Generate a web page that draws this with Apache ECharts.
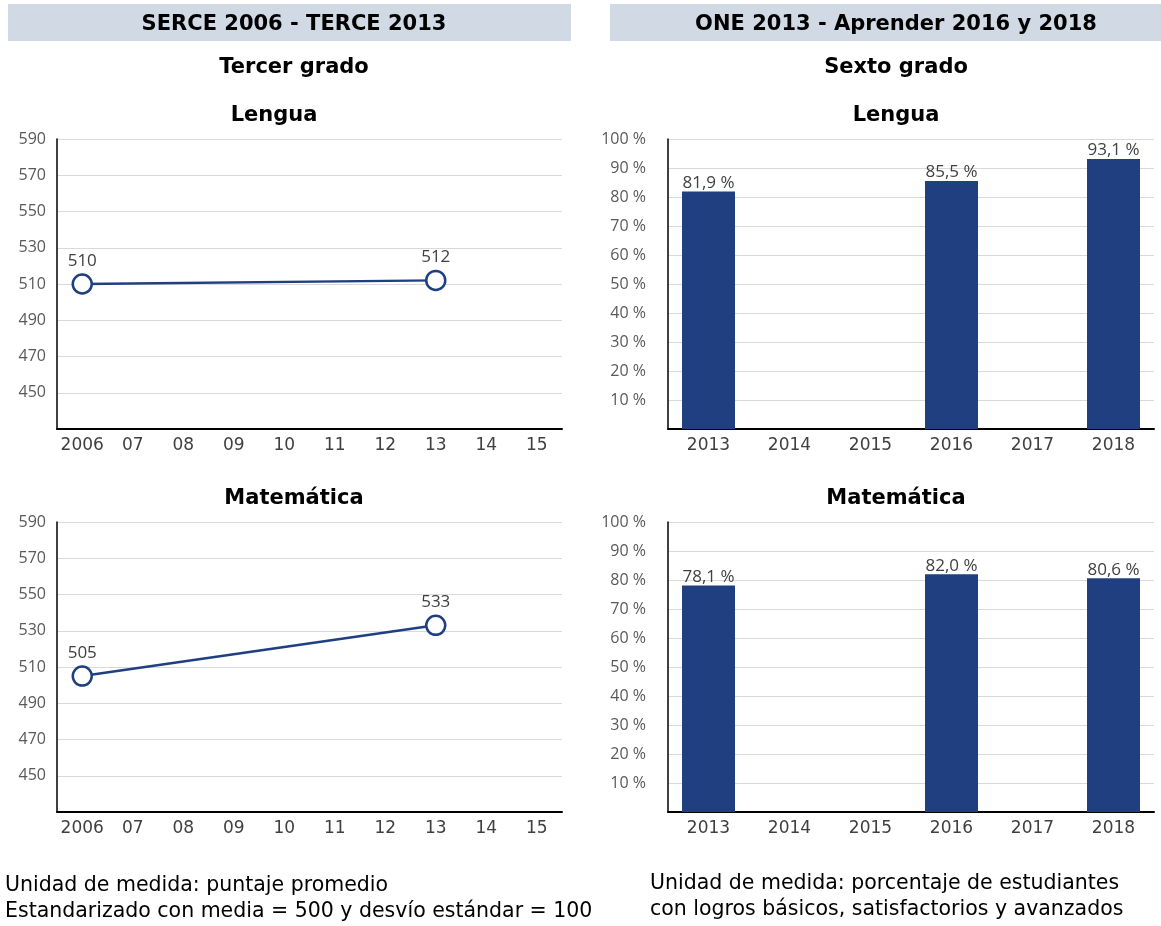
<!DOCTYPE html>
<html>
<head>
<meta charset="utf-8">
<script src="https://cdn.jsdelivr.net/npm/echarts@6/dist/echarts.min.js"></script>
<style>
  html, body { margin: 0; padding: 0; background: #fff; }
  #chart { width: 1161px; height: 926px; }
</style>
</head>
<body>
<div id="chart"></div>
<script>
// left side: SERCE / TERCE scores (tercer grado)
const yearsLeft = ["2006", "07", "08", "09", "10", "11", "12", "13", "14", "15"];
const lenguaTercer = [510, null, null, null, null, null, null, 512, null, null];
const mateTercer = [505, null, null, null, null, null, null, 533, null, null];

// right side: ONE / Aprender percentages (sexto grado)
const yearsRight = ["2013", "2014", "2015", "2016", "2017", "2018"];
const lenguaSexto = [81.9, null, null, 85.5, null, 93.1];
const mateSexto = [78.1, null, null, 82.0, null, 80.6];

const FONT = "Open Sans";
const WIDE = "DejaVu Sans";
const BLUE = "#1F3F80";
const GRID_GRAY = "#D9D9D9";

const chart = echarts.init(document.getElementById("chart"));

function scoreYAxis(gridIndex) {
  return {
    type: "value",
    gridIndex: gridIndex,
    min: 430,
    max: 590,
    interval: 10,
    axisLine: { show: true, lineStyle: { color: "#000", width: 1.5 } },
    axisTick: { show: false },
    axisLabel: {
      color: "#595959",
      fontSize: 16,
      fontFamily: FONT,
      margin: 11,
      // only every other tick gets a label (450, 470, ... 590)
      formatter: (v) => (v % 20 === 10 && v !== 430 ? String(v) : ""),
    },
    splitLine: { lineStyle: { color: [GRID_GRAY, "rgba(0,0,0,0)"], width: 1 } },
  };
}

function pctYAxis(gridIndex) {
  return {
    type: "value",
    gridIndex: gridIndex,
    min: 0,
    max: 100,
    interval: 10,
    axisLine: { show: true, lineStyle: { color: "#000", width: 1.5 } },
    axisTick: { show: false },
    axisLabel: {
      color: "#595959",
      fontSize: 16,
      fontFamily: FONT,
      margin: 22,
      formatter: (v) => (v === 0 ? "" : v + " %"),
    },
    splitLine: { lineStyle: { color: GRID_GRAY, width: 1 } },
  };
}

function catXAxis(gridIndex, data) {
  return {
    type: "category",
    gridIndex: gridIndex,
    data: data,
    boundaryGap: true,
    axisLine: { lineStyle: { color: "#000", width: 2 } },
    axisTick: { show: false },
    axisLabel: { color: "#404040", fontSize: 17, fontFamily: WIDE, margin: 8, interval: 0 },
  };
}

function lineSeries(idx, data) {
  return {
    type: "line",
    xAxisIndex: idx,
    yAxisIndex: idx,
    data: data,
    connectNulls: true,
    symbol: "circle",
    symbolSize: 19,
    lineStyle: { color: BLUE, width: 2.5 },
    itemStyle: { color: "#fff", borderColor: BLUE, borderWidth: 2.5 },
    label: {
      show: true,
      position: "top",
      distance: 4,
      color: "#404040",
      fontSize: 17,
      fontFamily: FONT,
    },
    z: 3,
  };
}

function barSeries(idx, data) {
  return {
    type: "bar",
    xAxisIndex: idx,
    yAxisIndex: idx,
    data: data,
    barWidth: 53,
    itemStyle: { color: BLUE },
    label: {
      show: true,
      position: "top",
      distance: 0,
      color: "#404040",
      fontSize: 17,
      fontFamily: FONT,
      formatter: (p) => p.value.toFixed(1).replace(".", ",") + " %",
    },
  };
}

const titleStyle = { color: "#000", fontSize: 21, fontWeight: "bold", fontFamily: WIDE };

chart.setOption({
  backgroundColor: "#fff",
  animation: false,
  graphic: [
    { type: "rect", shape: { x: 8, y: 4, width: 563, height: 37 }, style: { fill: "#D1D9E4" }, z: -1 },
    { type: "rect", shape: { x: 610, y: 4, width: 551, height: 37 }, style: { fill: "#D1D9E4" }, z: -1 },
    {
      type: "text", left: 5, top: 873,
      style: {
        text: "Unidad de medida: puntaje promedio\nEstandarizado con media = 500 y desvío estándar = 100",
        fill: "#000", fontSize: 20.5, fontFamily: WIDE, lineHeight: 26,
      },
    },
    {
      type: "text", left: 650, top: 871,
      style: {
        text: "Unidad de medida: porcentaje de estudiantes\ncon logros básicos, satisfactorios y avanzados",
        fill: "#000", fontSize: 20.5, fontFamily: WIDE, lineHeight: 26,
      },
    },
  ],
  title: [
    { text: "SERCE 2006 - TERCE 2013", left: 289, top: 9, textAlign: "center", textStyle: titleStyle },
    { text: "ONE 2013 - Aprender 2016 y 2018", left: 891, top: 9, textAlign: "center", textStyle: titleStyle },
    { text: "Tercer grado", left: 289, top: 52, textAlign: "center", textStyle: titleStyle },
    { text: "Sexto grado", left: 891, top: 52, textAlign: "center", textStyle: titleStyle },
    { text: "Lengua", left: 269, top: 100, textAlign: "center", textStyle: titleStyle },
    { text: "Lengua", left: 891, top: 100, textAlign: "center", textStyle: titleStyle },
    { text: "Matemática", left: 289, top: 483, textAlign: "center", textStyle: titleStyle },
    { text: "Matemática", left: 891, top: 483, textAlign: "center", textStyle: titleStyle },
  ],
  grid: [
    { left: 57, top: 139, width: 505, height: 290 },
    { left: 57, top: 522, width: 505, height: 290 },
    { left: 668, top: 139, width: 486, height: 290 },
    { left: 668, top: 522, width: 486, height: 290 },
  ],
  xAxis: [
    catXAxis(0, yearsLeft),
    catXAxis(1, yearsLeft),
    catXAxis(2, yearsRight),
    catXAxis(3, yearsRight),
  ],
  yAxis: [scoreYAxis(0), scoreYAxis(1), pctYAxis(2), pctYAxis(3)],
  series: [
    lineSeries(0, lenguaTercer),
    lineSeries(1, mateTercer),
    barSeries(2, lenguaSexto),
    barSeries(3, mateSexto),
  ],
});
</script>
</body>
</html>
